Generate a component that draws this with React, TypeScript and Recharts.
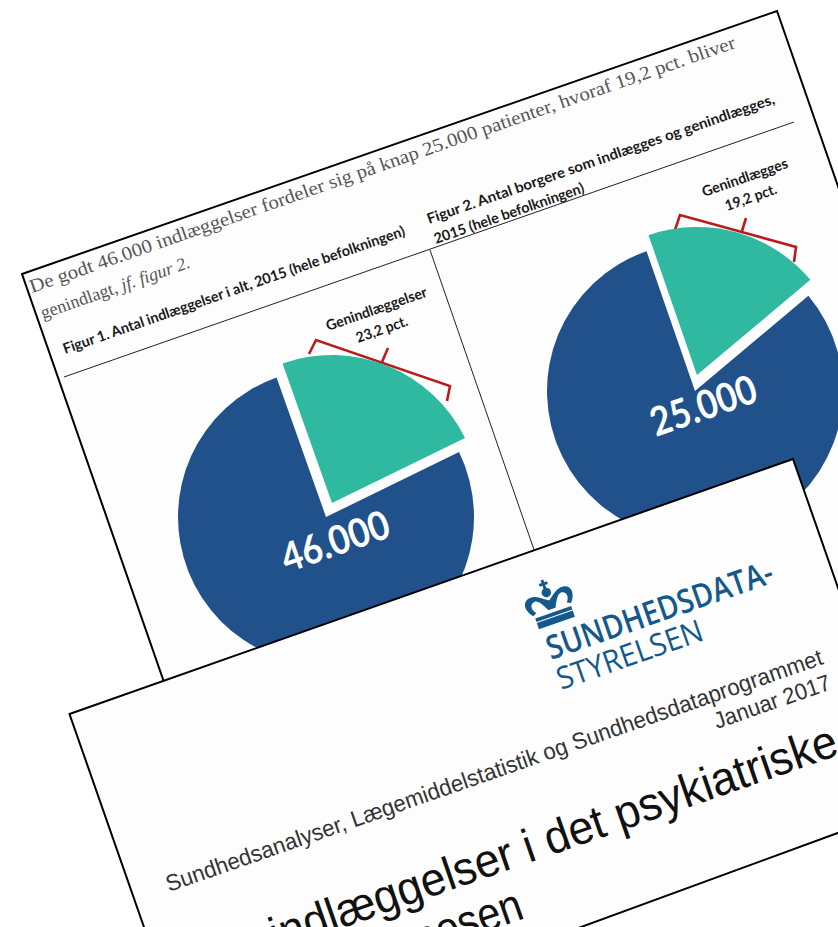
import { PieChart, Pie, Cell } from "recharts";

// shares (readmitted, rest)
const figure1Shares = [23.2, 76.8];
const figure2Shares = [19.2, 80.8];
const figure1Total = "46.000";
const figure2Total = "25.000";
const figure1Title = "Figur 1. Antal indlæggelser i alt, 2015 (hele befolkningen)";
const figure2Title = ["Figur 2. Antal borgere som indlægges og genindlægges,", "2015 (hele befolkningen)"];
const figure1Note = ["Genindlæggelser", "23,2 pct."];
const figure2Note = ["Genindlægges", "19,2 pct."];
const introLine = "De godt 46.000 indlæggelser fordeler sig på knap 25.000 patienter, hvoraf 19,2 pct. bliver";

const BLUE = "#21518B";
const TEAL = "#2FB9A0";
const RED = "#B91C1C";
const LOGO = "#14598C";
const TILT = -19.2;

function Tilted({ x, y, len, anchor, children, ...rest }: any) {
  return (
    <text
      x={x}
      y={y}
      transform={`rotate(${TILT} ${x} ${y})`}
      textLength={len}
      lengthAdjust={len ? "spacingAndGlyphs" : undefined}
      textAnchor={anchor}
      {...rest}
    >
      {children}
    </text>
  );
}

function toRows(shares: number[]) {
  return [
    { name: "Genindlagt", value: shares[0] },
    { name: "Øvrige", value: shares[1] },
  ];
}

// blue part stays on the centre, teal part is pulled out of it
function SplitPie({ shares, cx, cy, tealCx, tealCy, start }: any) {
  const rows = toRows(shares);
  const common = {
    data: rows,
    dataKey: "value",
    outerRadius: 148,
    startAngle: start,
    endAngle: start + 360,
    stroke: "none",
    isAnimationActive: false,
  };
  return [
    <Pie key="blue" {...common} cx={cx} cy={cy}>
      <Cell fill="transparent" />
      <Cell fill={BLUE} />
    </Pie>,
    <Pie key="teal" {...common} cx={tealCx} cy={tealCy}>
      <Cell fill={TEAL} />
      <Cell fill="transparent" />
    </Pie>,
  ];
}

const layer: any = { position: "absolute", left: 0, top: 0 };

export default function App() {
  const calibri = { fontFamily: "Lato", fontWeight: 700, fill: "#1a1a1a" };
  const serif = { fontFamily: "Liberation Serif", fill: "#555" };
  const arial = { fontFamily: "Liberation Sans" };

  return (
    <div style={{ position: "fixed", left: 0, top: 0, width: 838, height: 927, overflow: "hidden", background: "#fff" }}>
      <svg width={838} height={927} style={layer}>
        <polygon points="22,274 777,11 1007,672 252,935" fill="#fdfdfd" stroke="#000" strokeWidth={2} />
        <line x1={64} y1={377} x2={794} y2={122} stroke="#222" strokeWidth={1} />
        <line x1={430} y1={250} x2={540} y2={567} stroke="#222" strokeWidth={1} />

        <Tilted x={32} y={293} len={746} fontSize={19} {...serif}>{introLine}</Tilted>
        <Tilted x={43} y={319} len={157} fontSize={18} {...serif}>
          genindlagt, <tspan fontStyle="italic">jf. figur 2.</tspan>
        </Tilted>

        <Tilted x={65} y={354} len={361} fontSize={14.5} {...calibri}>{figure1Title}</Tilted>
        <Tilted x={429} y={224} len={367} fontSize={14.5} {...calibri}>{figure2Title[0]}</Tilted>
        <Tilted x={436} y={244} len={158} fontSize={14.5} {...calibri}>{figure2Title[1]}</Tilted>

        <Tilted x={328} y={331} len={106} fontSize={14.5} {...calibri}>{figure1Note[0]}</Tilted>
        <Tilted x={358} y={343} len={54} fontSize={14.5} {...calibri}>{figure1Note[1]}</Tilted>
        <Tilted x={704} y={197} len={90} fontSize={14.5} {...calibri}>{figure2Note[0]}</Tilted>
        <Tilted x={727} y={211} len={54} fontSize={14.5} {...calibri}>{figure2Note[1]}</Tilted>

        <polyline points="309,354 316,340 450,386 447,401" fill="none" stroke={RED} strokeWidth={2.6} />
        <polyline points="382,362 388,348" fill="none" stroke={RED} strokeWidth={2.6} />
        <polyline points="675,230 680,215 796,247 794,262" fill="none" stroke={RED} strokeWidth={2.6} />
        <polyline points="742,231 746,218" fill="none" stroke={RED} strokeWidth={2.6} />
      </svg>

      <div style={layer}>
        <PieChart width={838} height={927} margin={{ top: 0, right: 0, bottom: 0, left: 0 }}>
          {SplitPie({ shares: figure1Shares, cx: 326, cy: 517, tealCx: 332, tealCy: 503, start: 26 })}
          {SplitPie({ shares: figure2Shares, cx: 695, cy: 391, tealCx: 697, tealCy: 375, start: 40 })}
        </PieChart>
      </div>

      <svg width={838} height={927} style={layer}>
        <Tilted x={287} y={573} len={112} fontSize={40} fontFamily="Lato" fontWeight={700} fill="#fff">{figure1Total}</Tilted>
        <Tilted x={656} y={437} len={110} fontSize={40} fontFamily="Lato" fontWeight={700} fill="#fff">{figure2Total}</Tilted>

        <polygon points="69.5,714 793,459 914,805 193.6,1069" fill="#fdfdfd" stroke="#000" strokeWidth={2} />

        {/* crown of the logo */}
        <g transform="translate(551 606) rotate(-19.2) scale(0.95)" fill={LOGO}>
          <rect x={-1.5} y={-29} width={3} height={11} />
          <rect x={-4.5} y={-26} width={9} height={3} />
          <circle cx={0} cy={-15} r={5} />
          <path d="M-21 4 C-30 -6 -26 -17 -15 -15 C-9 -14 -5 -9 0 -6 C5 -9 9 -14 15 -15 C26 -17 30 -6 21 4 L17 2 C22 -4 20 -10 14 -10 C10 -9 7 -3 4 3 L-4 3 C-7 -3 -10 -9 -14 -10 C-20 -10 -22 -4 -17 2 Z" />
          <path d="M-4 3 C-5 -3 -2 -6 0 -6 C2 -6 5 -3 4 3 Z" />
          <rect x={-20} y={7} width={40} height={4} />
          <rect x={-20} y={12} width={40} height={7} />
        </g>
        <Tilted x={551} y={660} len={238} fontSize={33} fontFamily="Open Sans" fontWeight={600} fill={LOGO}>SUNDHEDSDATA-</Tilted>
        <Tilted x={561} y={690} len={153} fontSize={31} fontFamily="Open Sans" fontWeight={400} fill={LOGO}>STYRELSEN</Tilted>

        <Tilted x={169} y={892} len={694} fontSize={23} fill="#333" {...arial}>
          Sundhedsanalyser, Lægemiddelstatistik og Sundhedsdataprogrammet
        </Tilted>
        <Tilted x={717} y={729} len={122} fontSize={23} fill="#333" {...arial}>Januar 2017</Tilted>
        <Tilted x={276} y={951} len={598} fontSize={47} fill="#111" {...arial}>indlæggelser i det psykiatriske</Tilted>
        <Tilted x={526} y={918} anchor="end" len={190} fontSize={47} fill="#111" {...arial}>diagnosen</Tilted>
      </svg>
    </div>
  );
}
